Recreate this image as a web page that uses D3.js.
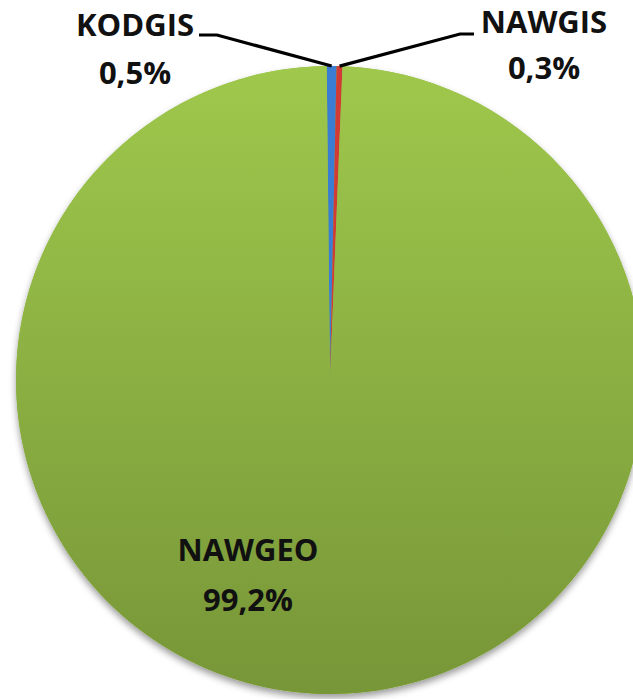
<!DOCTYPE html>
<html>
<head>
<meta charset="utf-8">
<script src="https://cdn.jsdelivr.net/npm/d3@7"></script>
<style>
  html, body { margin: 0; padding: 0; background: #fff; }
  svg { display: block; }
  text { font-family: "Open Sans", "DejaVu Sans", sans-serif; font-weight: 700; fill: #111; }
</style>
</head>
<body>
<svg id="chart" width="633" height="699"></svg>
<script>
// Share of records per source
const categories = ["KODGIS", "NAWGIS", "NAWGEO"];
const values = [0.5, 0.3, 99.2];
const valueLabels = ["0,5%", "0,3%", "99,2%"];
const colors = ["#3b7dd3", "#d23a36", "#8fb743"];

const width = 633, height = 699;
const cx = 330, cy = 380, radius = 314;

const svg = d3.select("#chart");
const defs = svg.append("defs");

// vertical gradient for the large slice
const grad = defs.append("linearGradient")
  .attr("id", "greenGrad").attr("x1", 0).attr("y1", 0).attr("x2", 0).attr("y2", 1);
grad.append("stop").attr("offset", "0%").attr("stop-color", "#9fc84c");
grad.append("stop").attr("offset", "100%").attr("stop-color", "#779638");

const shadow = defs.append("filter").attr("id", "pieShadow")
  .attr("x", "-10%").attr("y", "-10%").attr("width", "120%").attr("height", "120%");
shadow.append("feDropShadow").attr("dx", 0).attr("dy", 4)
  .attr("stdDeviation", 3.5).attr("flood-color", "#000").attr("flood-opacity", 0.4);

const fills = [colors[0], colors[1], "url(#greenGrad)"];

const deg = Math.PI / 180;
const pie = d3.pie().sort(null).value(d => d)
  .startAngle(-0.6 * deg).endAngle(-0.6 * deg + 2 * Math.PI);
const arcs = pie(values);
const arc = d3.arc().innerRadius(0).outerRadius(radius);

const g = svg.append("g").attr("transform", `translate(${cx},${cy})`);
g.append("circle").attr("r", radius).attr("fill", "#8fb743").attr("filter", "url(#pieShadow)");
g.selectAll("path.slice")
  .data(arcs)
  .join("path")
  .attr("class", "slice")
  .attr("d", arc)
  .attr("fill", (d, i) => fills[i]);

// leader lines for the two thin slices
const leaders = [
  { i: 0, pts: [[217, 35], [199, 35]] },
  { i: 1, pts: [[460, 34], [474, 34]] }
];
leaders.forEach(l => {
  const a = arcs[l.i];
  const mid = (a.startAngle + a.endAngle) / 2;
  const p0 = [cx + radius * Math.sin(mid), cy - radius * Math.cos(mid)];
  svg.append("path")
    .attr("d", d3.line()([p0, ...l.pts]))
    .attr("fill", "none").attr("stroke", "#000").attr("stroke-width", 3.2);
});

const labelPos = [
  { x: 135, y1: 36, y2: 84 },
  { x: 544, y1: 33, y2: 79 },
  { x: 248, y1: 561, y2: 611 }
];
categories.forEach((c, i) => {
  const p = labelPos[i];
  svg.append("text").attr("x", p.x).attr("y", p.y1).attr("text-anchor", "middle")
    .attr("font-size", 31).text(c);
  svg.append("text").attr("x", p.x).attr("y", p.y2).attr("text-anchor", "middle")
    .attr("font-size", 31).text(valueLabels[i]);
});
</script>
</body>
</html>
